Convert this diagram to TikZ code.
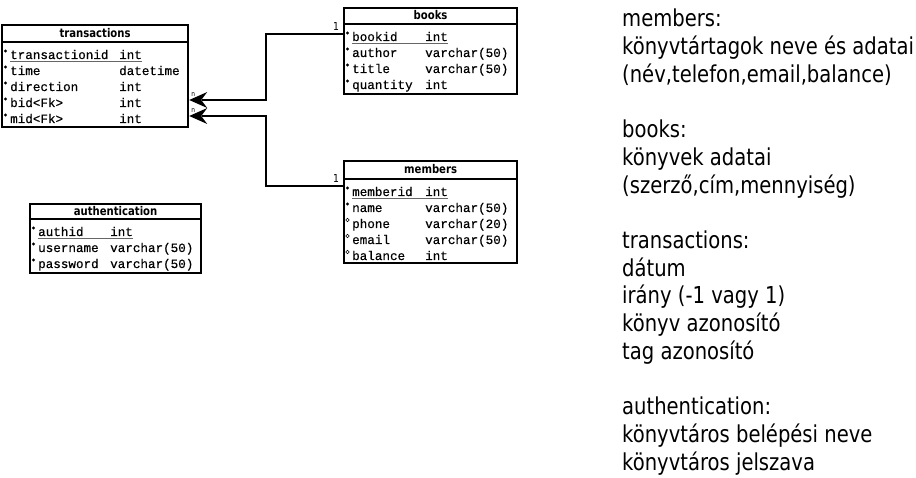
\documentclass[tikz,border=0pt]{standalone}
\usepackage{fontspec}
\usetikzlibrary{calc}
\newfontfamily\sansfam[FakeStretch=0.84]{DejaVu Sans}
\newfontfamily\monofam[FakeBold=0.5]{Liberation Mono}

% one table: #1 name, #2 offset of the type column, #3 header height,
% #4 list of mark/field/type (mark: p = primary key, f = mandatory, o = optional)
\newcommand\erfields[4]{%
  \draw[sep] ($(#1.north west)+(0,#3)$) -- ($(#1.north east)+(0,#3)$);
  \foreach \m/\n/\t [count=\k from 0] in {#4} {
    \pgfmathsetmacro\yy{#3+17+16*\k}
    \node[fld] (#1-n\k) at ($(#1.north west)+(9,\yy)$) {\n};
    \node[fld] (#1-t\k) at ($(#1.north west)+(#2,\yy)$) {\t};
    \node[mk\m] (#1-m\k) at ($(#1.north west)+(4.5,\yy-8)$) {};
    \def\pkmark{p}%
    \ifx\m\pkmark
      \draw[uline] ($(#1-n\k.base west)+(0,2.2)$) -- ($(#1-t\k.base east)+(0,2.2)$);
    \fi
  }
}

% barbed arrowhead pointing left, tip at the named coordinate #1
\newcommand\leftbarb[1]{%
  \fill[black] (#1) -- ($(#1)+(18,-8)$) -- ($(#1)+(12,0)$) -- ($(#1)+(18,8)$) -- cycle;
}

\begin{document}
\begin{tikzpicture}[x=1pt,y=-1pt,
  tbl/.style={draw, line width=2.2pt, inner sep=0pt, anchor=north west, fill=white},
  sep/.style={line width=2pt},
  hdr/.style={font=\sansfam\bfseries\fontsize{12}{14}\selectfont, inner sep=0pt},
  fld/.style={font=\monofam\fontsize{12.6}{14}\selectfont, anchor=base west, inner sep=0pt},
  mkp/.style={fill, circle, inner sep=0pt, minimum size=3.4pt},
  mkf/.style={fill, circle, inner sep=0pt, minimum size=3.4pt},
  mko/.style={draw, circle, inner sep=0pt, minimum size=3.6pt, line width=0.6pt},
  uline/.style={line width=1pt, black!60},
  rel/.style={line width=2.2pt},
  one/.style={font=\sansfam\fontsize{11}{13}\selectfont, anchor=base east, inner sep=0pt},
  many/.style={font=\sansfam\fontsize{7}{8}\selectfont, anchor=base west, inner sep=0pt},
  note/.style={font=\sansfam\fontsize{23.3}{27}\selectfont, anchor=base west, inner sep=0pt}
]
\useasboundingbox (0,0) rectangle (916,478);

% tables
\node[tbl, minimum width=186pt, minimum height=102pt] (transactions) at (1,24) {};
\node[tbl, minimum width=173pt, minimum height=86pt]  (books)        at (343,7) {};
\node[tbl, minimum width=173pt, minimum height=102pt] (members)      at (343,160) {};
\node[tbl, minimum width=171pt, minimum height=69pt]  (authentication) at (29,203) {};

\node[hdr] (transactions-h) at ($(transactions.north)+(0,9)$) {transactions};
\node[hdr] (books-h) at ($(books.north)+(0,8.5)$) {books};
\node[hdr] (members-h) at ($(members.north)+(0,9.5)$) {members};
\node[hdr] (authentication-h) at ($(authentication.north)+(0,8)$) {authentication};

\erfields{transactions}{118}{18}{p/transactionid/int, f/time/datetime, f/direction/int, f/bid<Fk>/int, f/mid<Fk>/int}
\erfields{books}{82}{17}{p/bookid/int, f/author/varchar(50), f/title/varchar(50), f/quantity/int}
\erfields{members}{82}{19}{p/memberid/int, f/name/varchar(50), o/phone/varchar(20), o/email/varchar(50), o/balance/int}
\erfields{authentication}{81}{16}{p/authid/int, f/username/varchar(50), f/password/varchar(50)}

% relationships
\coordinate (mid) at ($(books.west)!.5!(transactions.east)$);
\coordinate (bk) at ($(books.north west)+(0,27)$);
\coordinate (mb) at ($(members.north west)+(0,26)$);
\coordinate (tb) at ($(transactions.north east)+(0,76)$);
\coordinate (tm) at ($(transactions.north east)+(0,92)$);

\node[many] (tb-n) at ($(tb)+(2,-3)$) {n};
\node[many] (tm-n) at ($(tm)+(2,-3)$) {n};

\draw[rel] (bk) node[one, xshift=-3pt, yshift=3pt] (bk-1) {1} -- (bk -| mid) |- ($(tb)+(13,0)$);
\draw[rel] (mb) node[one, xshift=-3pt, yshift=3pt] (mb-1) {1} -- (mb -| mid) |- ($(tm)+(13,0)$);
\leftbarb{tb}
\leftbarb{tm}

% description
\foreach \i/\t in {0/members:, 1/könyvtártagok neve és adatai, 2/{(név,telefon,email,balance)},
                   4/books:, 5/könyvek adatai, 6/{(szerző,cím,mennyiség)},
                   8/transactions:, 9/dátum, 10/irány (-1 vagy 1), 11/könyv azonosító, 12/tag azonosító,
                   14/authentication:, 15/könyvtáros belépési neve, 16/könyvtáros jelszava}
  \node[note] (note-\i) at (622, 27+27.7*\i) {\t};
\end{tikzpicture}
\end{document}
